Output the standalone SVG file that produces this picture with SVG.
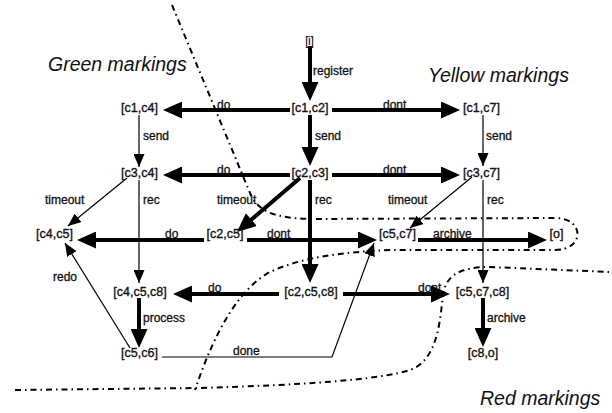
<svg xmlns="http://www.w3.org/2000/svg" width="612" height="413" viewBox="0 0 612 413">
<defs>
<style>
text{font-family:"Liberation Sans",Arial,sans-serif;fill:#111}
.n{font-size:12.5px;text-anchor:middle;stroke:#111;stroke-width:0.35}
.l{font-size:12px;stroke:#111;stroke-width:0.3}
.m{font-size:19.5px;font-style:italic}
.thick{fill:none;stroke:#000;stroke-width:4;marker-end:url(#big)}
.thin{fill:none;stroke:#000;stroke-width:1.2;marker-end:url(#small)}
.bd{fill:none;stroke:#000;stroke-width:2;stroke-dasharray:6 4 1.5 4}
</style>
<marker id="big" markerUnits="userSpaceOnUse" markerWidth="19" markerHeight="17" refX="13" refY="8.5" orient="auto"><path d="M0,0 L19,8.5 L0,17 z" fill="#000"/></marker>
<marker id="small" markerUnits="userSpaceOnUse" markerWidth="13" markerHeight="11" refX="13" refY="5.5" orient="auto"><path d="M0,0 L13,5.5 L0,11 z" fill="#000"/></marker>
</defs>
<rect width="612" height="413" fill="#fff"/>
<g id="boundaries">
<path class="bd" d="M172,5 L250,193 C258,212 275,218 310,219 L555,218 C585,218 585,250 555,250 L390,250 C340,252 300,258 270,272 C240,288 215,330 195,390"/>
<path class="bd" d="M15,390 L200,388 C300,385 380,380 410,370 C438,360 440,320 443,295 C446,275 460,267 490,267 L610,272"/>
</g>
<g id="region-labels">
<text class="m" x="48" y="71">Green markings</text>
<text class="m" x="428" y="82">Yellow markings</text>
<text class="m" x="480" y="405">Red markings</text>
</g>
<g id="connectors">
<path class="thick" d="M310,46 V95"/>
<path class="thick" d="M310,115 V160"/>
<path class="thick" d="M310,180 V277"/>
<path class="thick" d="M300,178 L241.5,228.1"/>
<path class="thick" d="M290,110 H169"/>
<path class="thick" d="M290,175 H169"/>
<path class="thick" d="M204,240 H83"/>
<path class="thick" d="M279,294 H179"/>
<path class="thick" d="M332,110 H454"/>
<path class="thick" d="M332,175 H454"/>
<path class="thick" d="M247,240 H371"/>
<path class="thick" d="M343,294 H444"/>
<path class="thick" d="M418,240 H541"/>
<path class="thick" d="M483,298 V341"/>
<path class="thick" d="M139,298 V342"/>
<path class="thin" d="M139,115 V167"/>
<path class="thin" d="M483,115 V166"/>
<path class="thin" d="M139,180 V283"/>
<path class="thin" d="M483,180 V283"/>
<path class="thin" d="M127,178 L68,226"/>
<path class="thin" d="M472,177 L410,228"/>
<path class="thin" d="M130,348 L65,243"/>
<path class="thin" d="M162,357 H332 L374,243"/>
<text class="l" x="313" y="75">register</text>
<text class="l" x="315" y="140">send</text>
<text class="l" x="143" y="140">send</text>
<text class="l" x="486" y="140">send</text>
<text class="l" x="217" y="109">do</text>
<text class="l" x="383" y="109">dont</text>
<text class="l" x="217" y="174">do</text>
<text class="l" x="383" y="174">dont</text>
<text class="l" x="45" y="204">timeout</text>
<text class="l" x="143" y="204">rec</text>
<text class="l" x="217" y="204">timeout</text>
<text class="l" x="315" y="204">rec</text>
<text class="l" x="388" y="204">timeout</text>
<text class="l" x="487" y="204">rec</text>
<text class="l" x="165" y="238">do</text>
<text class="l" x="267" y="238">dont</text>
<text class="l" x="433" y="238">archive</text>
<text class="l" x="53" y="281">redo</text>
<text class="l" x="208" y="292">do</text>
<text class="l" x="418" y="292">dont</text>
<text class="l" x="143" y="322">process</text>
<text class="l" x="487" y="322">archive</text>
<text class="l" x="233" y="355">done</text>
</g>
<g id="n_i"><text x="305.5" y="45" font-size="13" font-weight="bold" fill="#000" textLength="8" lengthAdjust="spacingAndGlyphs">[i]</text></g>
<g id="n_c1c4"><text class="n" x="139.5" y="112">[c1,c4]</text></g>
<g id="n_c1c2"><text class="n" x="310" y="112">[c1,c2]</text></g>
<g id="n_c1c7"><text class="n" x="481.5" y="112">[c1,c7]</text></g>
<g id="n_c3c4"><text class="n" x="139.5" y="177">[c3,c4]</text></g>
<g id="n_c2c3"><text class="n" x="310" y="177">[c2,c3]</text></g>
<g id="n_c3c7"><text class="n" x="481.5" y="177">[c3,c7]</text></g>
<g id="n_c4c5"><text class="n" x="54.5" y="238">[c4,c5]</text></g>
<g id="n_c2c5"><text class="n" x="225" y="238">[c2,c5]</text></g>
<g id="n_c5c7"><text class="n" x="397.5" y="238">[c5,c7]</text></g>
<g id="n_o"><text class="n" x="556.5" y="238">[o]</text></g>
<g id="n_c4c5c8"><text class="n" x="140" y="296">[c4,c5,c8]</text></g>
<g id="n_c2c5c8"><text class="n" x="311" y="296">[c2,c5,c8]</text></g>
<g id="n_c5c7c8"><text class="n" x="482.5" y="296">[c5,c7,c8]</text></g>
<g id="n_c5c6"><text class="n" x="139.5" y="357">[c5,c6]</text></g>
<g id="n_c8o"><text class="n" x="483" y="357">[c8,o]</text></g>
</svg>
